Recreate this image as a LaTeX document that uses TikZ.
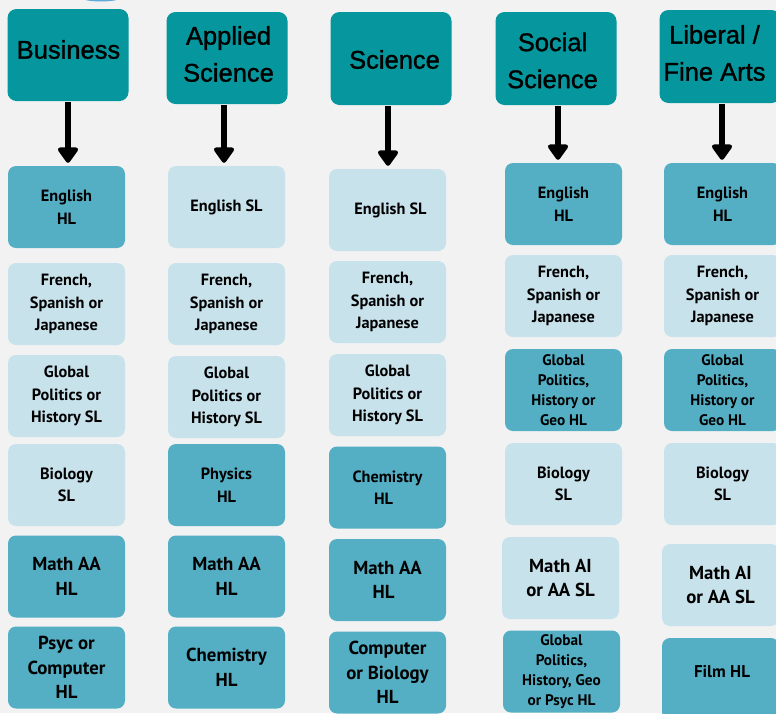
\documentclass[tikz,border=0pt]{standalone}
\usepackage{fontspec}
\setmainfont{PT Sans}
\newfontfamily\hdrfont[FakeBold=1.2]{Liberation Sans}
\usetikzlibrary{arrows.meta}
\definecolor{bgc}{HTML}{F2F2F2}
\definecolor{hdrc}{HTML}{05979D}
\definecolor{darkc}{HTML}{54AFC5}
\definecolor{lightc}{HTML}{C8E2EB}
\definecolor{blobc}{HTML}{5DA9DC}
\tikzset{
  hdr/.style={fill=hdrc, rounded corners=9pt, inner sep=0pt, minimum width=121pt, minimum height=92pt},
  htxt/.style={inner sep=0pt, align=center, font=\hdrfont\fontsize{25.5}{37}\selectfont},
  cellbox/.style={rounded corners=8pt, inner sep=0pt, minimum width=117pt, minimum height=82pt, align=center, font=\bfseries\fontsize{16.3}{22.5}\selectfont},
  dk/.style={cellbox, fill=darkc},
  lt/.style={cellbox, fill=lightc},
  big/.style={font=\bfseries\fontsize{18.8}{24.5}\selectfont},
  tiny4/.style={font=\bfseries\fontsize{15.3}{20}\selectfont},
  arr/.style={line width=6pt, -{Triangle[width=23pt,length=17pt,round]}, shorten >=3pt}
}
\begin{document}
\begin{tikzpicture}[x=1pt,y=-1pt]
\fill[bgc] (0,0) rectangle (776,713);
\useasboundingbox (0,0) rectangle (776,713);
\fill[blobc] (101,-3) ellipse [x radius=21, y radius=4.5];
% headers
\node[hdr] (h1) at (68,55) {};
\node[hdr] (h2) at (227,58) {};
\node[hdr, minimum height=93pt] (h3) at (391,58.5) {};
\node[hdr, minimum height=93pt] (h4) at (556,58.5) {};
\node[hdr, minimum height=93pt] (h5) at (720,56.5) {};
\node[htxt] (t1) at (68.5,49.5) {Business};
\node[htxt] (t2) at (228.5,54) {Applied\\Science};
\node[htxt] (t3) at (394.5,59.5) {Science};
\node[htxt] (t4) at (552.5,60.5) {Social\\Science};
\node[htxt] (t5) at (714.5,53) {Liberal /\\Fine Arts};
% column 1
\node[dk] (a1) at (66.5,207) {English\\HL};
\node[lt] (a2) at (66.5,304) {French,\\Spanish or\\Japanese};
\node[lt] (a3) at (66.5,396) {Global\\Politics or\\History SL};
\node[lt] (a4) at (66.5,485) {Biology\\SL};
\node[dk, big] (a5) at (66.5,576.5) {Math AA\\HL};
\node[dk, big] (a6) at (66.5,667.5) {Psyc or\\Computer\\HL};
% column 2
\node[lt] (b1) at (226.5,207) {English SL};
\node[lt] (b2) at (226.5,304) {French,\\Spanish or\\Japanese};
\node[lt] (b3) at (226.5,397) {Global\\Politics or\\History SL};
\node[dk] (b4) at (226.5,485) {Physics\\HL};
\node[dk, big] (b5) at (226.5,576.5) {Math AA\\HL};
\node[dk, big] (b6) at (226.5,667.5) {Chemistry\\HL};
% column 3
\node[lt] (c1) at (387.5,210) {\hspace*{6pt}English SL};
\node[lt] (c2) at (387.5,302) {French,\\Spanish or\\Japanese};
\node[lt] (c3) at (387.5,395) {Global\\Politics or\\History SL};
\node[dk] (c4) at (387.5,487.5) {Chemistry\\HL\hspace*{8pt}};
\node[dk, big] (c5) at (387.5,580) {Math AA\\HL\hspace*{8pt}};
\node[dk, big] (c6) at (387.5,672.5) {Computer\\or Biology\\HL};
% column 4
\node[dk] (d1) at (563.5,204) {English\\HL};
\node[lt] (d2) at (563.5,296) {French,\\Spanish or\\Japanese};
\node[dk, tiny4] (d3) at (563.5,390) {Global\\Politics,\\History or\\Geo HL};
\node[lt] (d4) at (563.5,484) {Biology\\SL};
\node[lt, big] (d5) at (560.5,578) {Math AI\\or AA SL};
\node[dk, tiny4] (d6) at (561.5,671.5) {Global\\Politics,\\History, Geo\\or Psyc HL};
% column 5
\node[dk] (e1) at (722.5,204) {English\\HL};
\node[lt] (e2) at (722.5,296) {French,\\Spanish or\\Japanese};
\node[dk, tiny4] (e3) at (722.5,390) {Global\\Politics,\\History or\\Geo HL};
\node[lt] (e4) at (722.5,484) {Biology\\SL};
\node[lt, big] (e5) at (720.5,585) {Math AI\\or AA SL};
\node[dk] (e6) at (720.5,679) {};
\node[inner sep=0pt, font=\bfseries\fontsize{17}{24.5}\selectfont] (e6t) at (722,672) {Film HL};
% arrows
\draw[arr] ([yshift=-1pt]h1.south) -- (h1.south |- a1.north);
\draw[arr] ([xshift=-3pt,yshift=-1pt]h2.south) -- ([xshift=-3pt]h2.south |- b1.north);
\draw[arr] ([xshift=-3pt,yshift=-1pt]h3.south) -- ([xshift=-3pt]h3.south |- c1.north);
\draw[arr] ([xshift=2pt,yshift=-1pt]h4.south) -- ([xshift=2pt]h4.south |- d1.north);
\draw[arr] ([xshift=2pt,yshift=-1pt]h5.south) -- ([xshift=2pt]h5.south |- e1.north);
\end{tikzpicture}
\end{document}
